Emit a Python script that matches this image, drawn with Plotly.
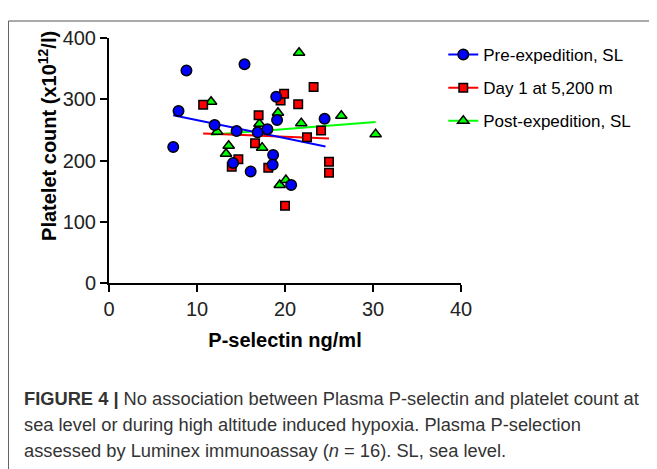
import plotly.graph_objects as go

# ---- data ----
pre_x = [7.3, 7.9, 8.8, 12.0, 14.1, 14.5, 15.4, 16.1, 16.9, 18.0, 18.65, 18.6, 19.0, 19.1, 20.7, 24.5]
pre_y = [222, 281, 347, 258, 196, 248, 357, 182, 246, 251, 209, 193, 304, 266, 160, 268]

day1_x = [10.7, 13.95, 14.7, 16.6, 17.0, 18.1, 19.5, 19.9, 20.0, 21.5, 22.5, 23.25, 24.1, 25.0, 25.0]
day1_y = [291, 190, 202, 228, 274, 188, 298, 309, 126, 292, 238, 320, 249, 198, 180]

post_x = [11.6, 12.3, 13.6, 13.3, 17.1, 17.4, 19.2, 19.4, 20.1, 21.6, 21.85, 26.4, 30.3]
post_y = [296, 247, 224, 211, 260, 221, 278, 160, 168, 376, 261, 273, 243]

# linear fit lines (endpoints)
pre_fit_x = [7.3, 24.6]
pre_fit_y = [274, 223]
day1_fit_x = [10.7, 25.0]
day1_fit_y = [244, 236]
post_fit_x = [11.6, 30.3]
post_fit_y = [242, 263]

names = ["Pre-expedition, SL", "Day 1 at 5,200 m", "Post-expedition, SL"]
x_ticks = [0, 10, 20, 30, 40]
y_ticks = [0, 100, 200, 300, 400]

caption_lines = [
    "<b>FIGURE 4 |</b> No association between Plasma P-selectin and platelet count at",
    "sea level or during high altitude induced hypoxia. Plasma P-selection",
    "assessed by Luminex immunoassay (<i>n</i> = 16). SL, sea level.",
]

BLUE, RED, GREEN = "#0000FF", "#FF0000", "#00FF00"
FONT = "Liberation Sans, Arial, sans-serif"

fig = go.Figure()

# fit lines (behind markers)
for fx, fy, col in [(post_fit_x, post_fit_y, GREEN), (day1_fit_x, day1_fit_y, RED), (pre_fit_x, pre_fit_y, BLUE)]:
    fig.add_trace(go.Scatter(x=fx, y=fy, mode="lines", line=dict(color=col, width=2),
                             showlegend=False, hoverinfo="skip", cliponaxis=False))

# points
fig.add_trace(go.Scatter(x=post_x, y=post_y, mode="markers", showlegend=False, cliponaxis=False,
                         marker=dict(symbol="triangle-up", size=10, color=GREEN,
                                     line=dict(color="black", width=1.5))))
fig.add_trace(go.Scatter(x=day1_x, y=day1_y, mode="markers", showlegend=False, cliponaxis=False,
                         marker=dict(symbol="square", size=8.5, color=RED,
                                     line=dict(color="black", width=1.5))))
fig.add_trace(go.Scatter(x=pre_x, y=pre_y, mode="markers", showlegend=False, cliponaxis=False,
                         marker=dict(symbol="circle", size=10.5, color=BLUE,
                                     line=dict(color="black", width=1.5))))

# legend entries
leg = [(names[0], BLUE, "circle", 10.5), (names[1], RED, "square", 8.5), (names[2], GREEN, "triangle-up", 10)]
for i, (nm, col, sym, sz) in enumerate(leg):
    fig.add_trace(go.Scatter(x=[None], y=[None], mode="lines+markers", name=nm, legendgroup=str(i),
                             line=dict(color=col, width=2),
                             marker=dict(symbol=sym, size=sz, color=col, line=dict(color="black", width=1.5))))

# page has an 8px body margin; work in window (reference) pixel coordinates
OFF = 8
W, H = 657 - OFF, 469 - OFF
AX_L, AX_R, AX_T, AX_B = 109, 460.7, 38, 283  # plot area in reference pixels
L = AX_L - OFF
T = AX_T - OFF
R = W - (AX_R - OFF)
B = H - (AX_B - OFF)
pw, ph = AX_R - AX_L, AX_B - AX_T


def px(xp):
    return (xp - AX_L) / pw


def py(yp):
    return (AX_B - yp) / ph


annotations = [
    dict(text="<b>Platelet count (x10<sup>12</sup>/l)</b>", x=px(47), y=py(136), xref="paper", yref="paper",
         showarrow=False, textangle=-90, font=dict(size=20, color="black", family=FONT),
         xanchor="center", yanchor="middle"),
]
for k, (line, yy) in enumerate(zip(caption_lines, [398, 424, 450])):
    annotations.append(dict(text=line, x=px(22), y=py(yy), xref="paper", yref="paper", showarrow=False,
                            xanchor="left", yanchor="middle", align="left",
                            font=dict(size=18.3, color="#333333", family=FONT)))

shapes = [
    dict(type="line", xref="paper", yref="paper", x0=px(8.5), x1=px(8.5), y0=py(21), y1=py(480),
         line=dict(color="#555555", width=1)),
    dict(type="line", xref="paper", yref="paper", x0=px(8.5), x1=px(700), y0=py(21), y1=py(21),
         line=dict(color="#555555", width=1)),
]

fig.update_layout(
    width=W, height=H,
    margin=dict(l=L, r=R, t=T, b=B, pad=0),
    paper_bgcolor="white", plot_bgcolor="white",
    font=dict(family=FONT, color="black"),
    xaxis=dict(range=[0, 40], tickvals=x_ticks, showline=True, linewidth=2, linecolor="black",
               ticks="outside", ticklen=7, tickwidth=2, tickcolor="black", showgrid=False, zeroline=False,
               tickfont=dict(size=20, color="#222222"),
               title=dict(text="<b>P-selectin ng/ml</b>", font=dict(size=20, color="black"), standoff=14)),
    yaxis=dict(range=[0, 400], tickvals=y_ticks, showline=True, linewidth=2, linecolor="black",
               ticks="outside", ticklen=7, tickwidth=2, tickcolor="black", showgrid=False, zeroline=False,
               tickfont=dict(size=20, color="#222222")),
    legend=dict(x=px(443), y=py(37), xanchor="left", yanchor="top", bgcolor="rgba(0,0,0,0)",
                font=dict(size=17, color="black"), traceorder="grouped", tracegroupgap=8,
                itemwidth=30),
    annotations=annotations,
    shapes=shapes,
    showlegend=True,
)

fig.write_html("out.html")
